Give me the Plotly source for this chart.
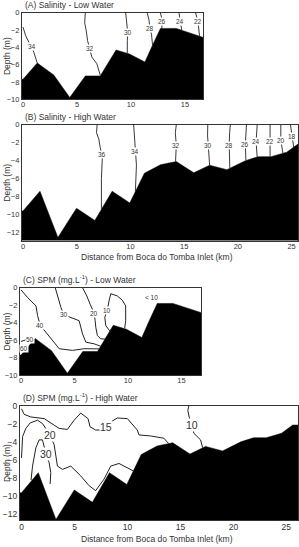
import plotly.graph_objects as go

# ---------------- data ----------------
# Bathymetry (distance km, depth m)
bottom_low_x = [0, 1.32, 2.85, 4.33, 5.77, 7.15, 8.62, 9.85, 11.29, 11.9, 12.73, 14.2, 16.7]
bottom_low_y = [-7.7, -5.8, -7.2, -9.8, -7.3, -7.3, -4.3, -4.75, -5.7, -4.0, -1.8, -1.8, -2.85]

bottom_high_x = [0, 1.58, 3.25, 4.98, 6.69, 8.3, 9.94, 11.3, 12.8, 14.27, 15.9, 17.37, 18.98, 20.7, 21.9, 23.1, 24.55, 25.6]
bottom_high_y = [-9.6, -7.4, -12.55, -9.3, -10.65, -7.4, -8.7, -5.4, -4.45, -4.1, -5.35, -4.5, -5.0, -4.0, -3.55, -3.55, -3.05, -2.15]

# (A) Salinity - Low Water
salA_levels = ["34", "32", "30", "28", "26", "24", "22"]
salA_x = [[0, 0.25, 0.55, 0.8, 1.0, 1.17, 1.32],
          [5.77, 5.71, 5.86, 5.98, 6.17, 6.38, 6.84, 7.0, 7.15],
          [9.51, 9.6, 9.7, 9.66, 9.66],
          [11.5, 11.66, 11.75, 11.9, 12.0],
          [12.73, 12.9, 12.85],
          [14.45, 14.57, 14.7],
          [15.98, 16.2, 16.35]]
salA_y = [[-1.65, -2.66, -3.42, -3.9, -4.56, -5.13, -5.8],
          [0, -1.14, -2.09, -3.23, -4.1, -5.13, -5.89, -6.65, -7.2],
          [0, -1.33, -2.3, -3.23, -4.68],
          [0, -0.76, -1.8, -2.47, -3.75],
          [0, -0.95, -1.8],
          [0, -1.0, -2.0],
          [0, -0.95, -2.69]]
salA_lab_x = [0.8, 6.17, 9.7, 11.75, 12.9, 14.57, 16.2]
salA_lab_y = [-3.9, -4.1, -2.3, -1.8, -0.95, -1.0, -0.95]

# (B) Salinity - High Water
salB_levels = ["36", "34", "32", "30", "28", "26", "24", "22", "20", "18"]
salB_x = [[6.9, 6.84, 7.06, 7.21, 7.4, 7.3, 7.3],
          [10.3, 10.37, 10.46, 10.56, 10.46],
          [14.27, 14.18, 14.27, 14.2],
          [17.2, 17.18, 17.25, 17.37],
          [19.3, 19.23, 19.2, 19.25],
          [20.8, 20.7, 20.75],
          [21.8, 21.7, 21.8],
          [23.0, 23.0, 23.0],
          [24.0, 24.0, 24.2],
          [24.9, 25.05, 25.2]]
salB_y = [[0, -0.88, -1.6, -2.7, -3.3, -6.0, -9.4],
          [0, -1.24, -3.0, -4.5, -7.45],
          [0, -0.88, -2.3, -4.1],
          [0, -1.24, -2.3, -4.5],
          [0, -0.88, -2.3, -4.84],
          [0, -2.2, -3.97],
          [0, -1.9, -3.6],
          [0, -1.85, -3.55],
          [0, -1.7, -3.2],
          [0, -1.3, -2.5]]
salB_lab_x = [7.4, 10.46, 14.27, 17.25, 19.2, 20.7, 21.7, 23.0, 24.0, 25.05]
salB_lab_y = [-3.3, -3.0, -2.3, -2.3, -2.3, -2.2, -1.9, -1.85, -1.7, -1.3]

# (C) SPM - Low Water
spmC_levels = ["40", "30", "20", "10", "50", "60"]
spmC_x = [[0, 0.62, 1.4, 1.55, 1.8, 2.33, 2.95, 3.57, 4.81, 5.9, 7.3],
          [3.2, 3.42, 3.73, 4.0, 4.66, 5.43, 5.75, 6.06, 6.83, 7.45],
          [5.75, 6.15, 6.46, 6.83, 6.93, 6.99, 7.14, 7.45, 7.85],
          [8.3, 7.92, 7.83, 8.07, 8.23, 8.39, 9.0, 9.47, 9.78, 9.78, 9.69],
          [0, 0.47, 0.78, 1.2],
          [0, 0.25, 0.55]]
spmC_y = [[-0.25, -1.13, -2.08, -3.2, -4.3, -5.1, -6.04, -6.98, -7.17, -6.98, -7.0],
          [0, -0.94, -2.26, -3.1, -3.4, -3.77, -5.28, -6.23, -6.42, -6.7],
          [0, -0.94, -1.89, -2.9, -3.77, -4.53, -5.47, -5.85, -5.87],
          [-4.95, -4.34, -3.4, -2.55, -1.5, -0.68, -0.94, -1.43, -2.08, -3.77, -4.65],
          [-6.15, -5.96, -5.96, -5.95],
          [-7.05, -6.9, -6.9]]
spmC_lab_x = [1.8, 4.0, 6.83, 8.07, 0.82, 0.25]
spmC_lab_y = [-4.3, -3.1, -2.9, -2.55, -5.96, -6.9]
spmC_note = "< 10"
spmC_note_x = 12.2
spmC_note_y = -1.1

# (D) SPM - High Water
spmD_levels = ["15", "20", "30", "10"]
spmD_x = [[0, 0.25, 0.88, 2.14, 3.55, 4.33, 4.96, 5.59, 6.28, 6.47, 7.0, 7.47, 7.95, 8.42, 9.05, 9.99, 10.93, 11.09, 12.19, 13.44, 13.9],
          [0, 0.1, 0.41, 0.82, 1.51, 1.98, 2.67, 3.08, 3.39, 3.86, 4.65, 5.59, 6.38, 7.0, 7.79, 8.42, 9.2, 9.99, 10.55],
          [0.9, 1.04, 1.35, 1.66, 1.98, 2.3, 2.61, 2.76, 2.7],
          [15.8, 15.7, 15.89, 16.1, 16.27, 16.9, 17.1]]
spmD_y = [[-0.36, -0.97, -1.26, -1.44, -2.52, -2.63, -1.62, -0.83, -1.44, -2.34, -2.7, -2.7, -2.35, -1.8, -1.37, -1.44, -2.7, -3.24, -3.35, -3.6, -4.2],
          [-5.77, -3.42, -2.52, -1.91, -1.62, -1.98, -3.2, -4.32, -6.67, -7.03, -6.67, -7.75, -8.83, -9.37, -8.1, -6.67, -6.38, -6.85, -7.2],
          [-8.2, -6.67, -4.68, -3.78, -3.78, -5.3, -6.31, -7.39, -8.65],
          [0, -0.54, -1.62, -2.1, -3.06, -3.78, -4.65]]
spmD_lab_x = [7.95, 2.67, 2.3, 16.1]
spmD_lab_y = [-2.35, -3.2, -5.3, -2.1]

# axis ticks
x_ticks_short = [0, 5, 10, 15]
x_ticks_long = [0, 5, 10, 15, 20, 25]
y_ticks_10 = [0, -2, -4, -6, -8, -10]
y_ticks_12 = [0, -2, -4, -6, -8, -10, -12]

titles = ["(A) Salinity - Low Water", "(B) Salinity - High Water",
          "(C) SPM (mg.L<sup>-1</sup>) - Low Water", "(D) SPM (mg.L<sup>-1</sup>) - High Water"]
x_title = "Distance from Boca do Tomba Inlet (km)"
y_title = "Depth (m)"

# ---------------- layout helpers ----------------
W, H = 299, 547
FONT = "Liberation Sans, Arial, sans-serif"
TXT = "#333333"

# panel pixel boxes: (left, right, top, bottom)
boxes = [(21, 203, 8, 96), (21, 298, 122, 240), (19, 201, 288, 377), (19, 298, 408, 525)]
xranges = [[-0.1, 16.7], [-0.1, 25.6], [-0.1, 16.85], [-0.15, 26.1]]
yranges = [[-10, 0], [-12.9, 0], [-10, 0], [-12.65, 0]]
xticks = [x_ticks_short, x_ticks_long, x_ticks_short, x_ticks_long]
yticks = [y_ticks_10, y_ticks_12, y_ticks_10, y_ticks_12]
tick_sizes = [7.5, 7.5, 7.5, 8.5]

fig = go.Figure()
annotations = []

def ax_name(i, kind):
    return kind if i == 0 else f"{kind}{i+1}"

def add_bottom(i, bx, by):
    xa, ya = ax_name(i, "x"), ax_name(i, "y")
    xr, yr = xranges[i], yranges[i]
    px = [xr[0]] + bx + [xr[1], xr[1], xr[0]]
    py = [by[0]] + by + [by[-1], yr[0] - 1, yr[0] - 1]
    fig.add_trace(go.Scatter(x=px, y=py, mode="lines", fill="toself",
                             fillcolor="black", line=dict(color="black", width=0.5),
                             xaxis=xa, yaxis=ya, hoverinfo="skip", showlegend=False))

def add_lines(i, xs, ys, width=1.0):
    xa, ya = ax_name(i, "x"), ax_name(i, "y")
    for lx, ly in zip(xs, ys):
        fig.add_trace(go.Scatter(x=lx, y=ly, mode="lines",
                                 line=dict(color="#222222", width=width),
                                 xaxis=xa, yaxis=ya, hoverinfo="skip", showlegend=False))

def add_labels(i, labels, lx, ly, size):
    xa, ya = ax_name(i, "x"), ax_name(i, "y")
    for t, x, y in zip(labels, lx, ly):
        annotations.append(dict(x=x, y=y, xref=xa, yref=ya, text=t, showarrow=False,
                                font=dict(family=FONT, size=size, color=TXT),
                                bgcolor="white", borderpad=0))

add_bottom(0, bottom_low_x, bottom_low_y)
add_lines(0, salA_x, salA_y, 0.9)
add_labels(0, salA_levels, salA_lab_x, salA_lab_y, 6.5)

add_bottom(1, bottom_high_x, bottom_high_y)
add_lines(1, salB_x, salB_y, 0.9)
add_labels(1, salB_levels, salB_lab_x, salB_lab_y, 6.5)

add_bottom(2, bottom_low_x, bottom_low_y)
add_lines(2, spmC_x, spmC_y, 1.0)
add_labels(2, spmC_levels, spmC_lab_x, spmC_lab_y, 6.5)
annotations.append(dict(x=spmC_note_x, y=spmC_note_y, xref="x3", yref="y3", text=spmC_note,
                        showarrow=False, font=dict(family=FONT, size=6.5, color=TXT)))

add_bottom(3, bottom_high_x, bottom_high_y)
add_lines(3, spmD_x, spmD_y, 1.0)
add_labels(3, spmD_levels, spmD_lab_x, spmD_lab_y, 10.5)

layout = dict(width=W, height=H, margin=dict(l=0, r=0, t=0, b=0),
              paper_bgcolor="white", plot_bgcolor="white", showlegend=False)

for i, (l, r, t, b) in enumerate(boxes):
    xa, ya = ax_name(i, "x"), ax_name(i, "y")
    xkey = "xaxis" if i == 0 else f"xaxis{i+1}"
    ykey = "yaxis" if i == 0 else f"yaxis{i+1}"
    layout[xkey] = dict(domain=[l / W, r / W], range=xranges[i], anchor=ya,
                        tickvals=xticks[i], ticks="", showgrid=False, zeroline=False,
                        showline=True, linecolor="#333333", linewidth=1, mirror=True,
                        ticklabelstandoff=-2,
                        tickfont=dict(family=FONT, size=tick_sizes[i], color=TXT))
    layout[ykey] = dict(domain=[1 - b / H, 1 - t / H], range=yranges[i], anchor=xa,
                        tickvals=yticks[i], ticks="", showgrid=False, zeroline=False,
                        showline=True, linecolor="#333333", linewidth=1, mirror=True,
                        tickfont=dict(family=FONT, size=tick_sizes[i], color=TXT))
    # panel title
    annotations.append(dict(x=(l + 1) / W, y=1 - (t - 1) / H, xref="paper", yref="paper",
                            xanchor="left", yanchor="bottom", text=titles[i], showarrow=False,
                            font=dict(family=FONT, size=8.5, color=TXT)))
    # y title
    annotations.append(dict(x=6 / W, y=1 - ((t + b) / 2) / H, xref="paper", yref="paper",
                            xanchor="center", yanchor="middle", text=y_title, textangle=-90,
                            showarrow=False, font=dict(family=FONT, size=8.5, color=TXT)))

# x titles for B and D
annotations.append(dict(x=(22 + 292) / 2 / W, y=1 - 257 / H, xref="paper", yref="paper",
                        xanchor="center", yanchor="middle", text=x_title, showarrow=False,
                        font=dict(family=FONT, size=8.5, color=TXT)))
annotations.append(dict(x=(21 + 292) / 2 / W, y=1 - 544 / H, xref="paper", yref="paper",
                        xanchor="center", yanchor="middle", text=x_title, showarrow=False,
                        font=dict(family=FONT, size=8.5, color=TXT)))

layout["annotations"] = annotations
fig.update_layout(**layout)
fig.write_html("out.html")
